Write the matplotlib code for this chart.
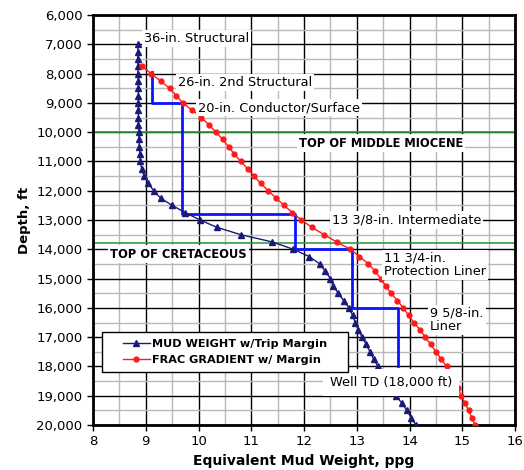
import matplotlib
matplotlib.use("Agg")
import matplotlib.pyplot as plt
from matplotlib.patches import Rectangle
from matplotlib.ticker import FuncFormatter, MultipleLocator

plt.rcParams['font.family'] = ['DejaVu Sans']

# mud weight w/ trip margin (depth ft, ppg)
mw_depth = [7000, 7250, 7500, 7750, 8000, 8250, 8500, 8750, 9000, 9250, 9500, 9750,
            10000, 10250, 10500, 10750, 11000, 11250, 11500, 11750, 12000, 12250,
            12500, 12750, 13000, 13250, 13500, 13750, 14000, 14250, 14500, 14750,
            15000, 15250, 15500, 15750, 16000, 16250, 16500, 16750, 17000, 17250,
            17500, 17750, 18000, 18250, 18500, 18750, 19000, 19250, 19500, 19750, 20000]
mw_ppg = [8.85, 8.85, 8.85, 8.85, 8.85, 8.86, 8.86, 8.86, 8.86, 8.86, 8.86, 8.86,
          8.87, 8.87, 8.88, 8.89, 8.90, 8.92, 8.97, 9.05, 9.15, 9.28,
          9.50, 9.75, 10.03, 10.35, 10.80, 11.40, 11.80, 12.10, 12.30, 12.40,
          12.50, 12.55, 12.65, 12.75, 12.85, 12.92, 12.97, 13.03, 13.10, 13.18,
          13.25, 13.32, 13.40, 13.48, 13.57, 13.65, 13.75, 13.85, 13.95, 14.03, 14.12]

# frac gradient w/ margin
fg_depth = [7750, 8000, 8250, 8500, 8750, 9000, 9250, 9500, 9750, 10000, 10250, 10500,
            10750, 11000, 11250, 11500, 11750, 12000, 12250, 12500, 12750, 13000,
            13250, 13500, 13750, 14000, 14250, 14500, 14750, 15000, 15250, 15500,
            15750, 16000, 16250, 16500, 16750, 17000, 17250, 17500, 17750, 18000,
            18250, 18500, 18750, 19000, 19250, 19500, 19750, 20000]
fg_ppg = [8.93, 9.10, 9.28, 9.45, 9.58, 9.70, 9.88, 10.05, 10.20, 10.33, 10.46, 10.57,
          10.68, 10.80, 10.93, 11.05, 11.18, 11.32, 11.47, 11.62, 11.78, 11.95,
          12.15, 12.38, 12.62, 12.88, 13.05, 13.22, 13.35, 13.45, 13.55, 13.65,
          13.77, 13.88, 13.98, 14.08, 14.20, 14.30, 14.40, 14.50, 14.60, 14.70,
          14.78, 14.85, 14.92, 14.98, 15.05, 15.12, 15.18, 15.24]

# casing program step line
casing_ppg = [9.12, 9.12, 9.69, 9.69, 11.83, 11.83, 12.91, 12.91, 13.78, 13.78]
casing_depth = [7950, 9000, 9000, 12800, 12800, 14000, 14000, 16000, 16000, 18000]

formation_depth = [10000, 13800]

casing_labels = [
    (8.97, 6790, "36-in. Structural"),
    (9.61, 8290, "26-in. 2nd Structural"),
    (9.99, 9170, "20-in. Conductor/Surface"),
    (12.53, 13000, "13 3/8-in. Intermediate"),
    (13.52, 14530, "11 3/4-in.\nProtection Liner"),
    (14.39, 16400, "9 5/8-in.\nLiner"),
]
td_label = (12.49, 18560, "Well TD (18,000 ft)")
formation_labels = [
    (11.9, 10370, "TOP OF MIDDLE MIOCENE"),
    (8.32, 14160, "TOP OF CRETACEOUS"),
]

fig = plt.figure(figsize=(5.24, 4.70), dpi=100)
ax = fig.add_axes([0.1775, 0.0957, 0.8055, 0.8723])

ax.set_xlim(8, 16)
ax.set_ylim(20000, 6000)
ax.xaxis.set_major_locator(MultipleLocator(1))
ax.xaxis.set_minor_locator(MultipleLocator(0.5))
ax.yaxis.set_major_locator(MultipleLocator(1000))
ax.yaxis.set_minor_locator(MultipleLocator(500))
ax.yaxis.set_major_formatter(FuncFormatter(lambda v, p: f"{int(v):,}"))
ax.grid(which='major', color='black', lw=1.0, zorder=0)
ax.grid(which='minor', color='#b8b8b8', lw=1.0, zorder=0)
ax.tick_params(which='major', direction='out', length=4, width=1, labelsize=9.5)
ax.tick_params(which='minor', length=0)
for s in ax.spines.values():
    s.set_linewidth(2)

for d in formation_depth:
    ax.axhline(d, color='#2e9e3e', lw=1.2, zorder=2)

ax.plot(casing_ppg, casing_depth, color='#0a14ff', lw=2, zorder=3)
ax.plot(mw_ppg, mw_depth, color='#1a1a78', lw=1, marker='^', ms=4.5,
        label='MUD WEIGHT w/Trip Margin', zorder=4)
ax.plot(fg_ppg, fg_depth, color='#ff1a1a', lw=1, marker='o', ms=3.5,
        label='FRAC GRADIENT w/ Margin', zorder=4)

box = dict(facecolor='white', edgecolor='none', pad=1.5)
for x, y, t in casing_labels:
    ax.text(x, y, t, fontsize=9.3, va='center', ha='left', bbox=box, zorder=5,
            linespacing=1.0)
ax.text(td_label[0], td_label[1], td_label[2], fontsize=9.3, va='center',
        ha='left', zorder=5,
        bbox=dict(facecolor='white', edgecolor='none', pad=5))
for x, y, t in formation_labels:
    ax.text(x, y, t, fontsize=8.3, fontweight='bold', va='center', ha='left',
            bbox=box, zorder=5)

# legend frame drawn separately (wide side margins as in the original)
ax.add_patch(Rectangle((0.021, 0.129), 0.583, 0.098, transform=ax.transAxes,
                       facecolor='white', edgecolor='black', lw=1, zorder=6))
leg = ax.legend(loc='center', bbox_to_anchor=(0.313, 0.178), frameon=False,
                prop={'weight': 'bold', 'size': 8.1}, handlelength=2.4,
                borderpad=0, labelspacing=0.55, handletextpad=0.2)
leg.set_zorder(7)

ax.set_xlabel('Equivalent Mud Weight, ppg', fontsize=10, fontweight='bold')
ax.set_ylabel('Depth, ft', fontsize=9.5, fontweight='bold')

fig.savefig('out.png', dpi=100)
